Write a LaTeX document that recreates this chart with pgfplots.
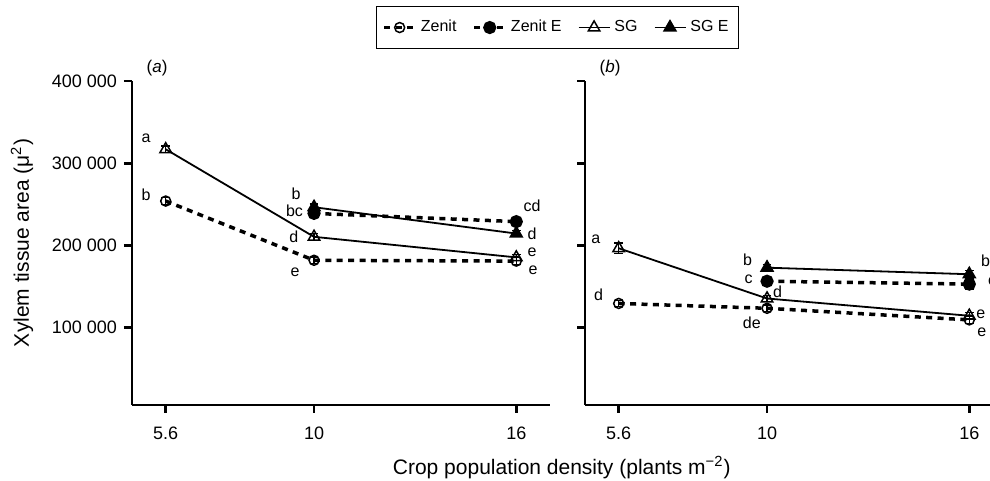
\documentclass[border=0pt]{standalone}
\usepackage{fontspec}
\setmainfont{Liberation Sans}
\usepackage{pgfplots}
\pgfplotsset{compat=1.18}

\tikzset{lab/.style={font=\fontsize{8}{9.5}\selectfont, inner sep=0pt}}
\pgfplotsset{
  myaxis/.style={
    scale only axis, width=209pt, height=162pt,
    xmin=4.6, xmax=17, ymin=6000, ymax=400000,
    axis x line*=bottom, axis y line*=left,
    axis line style={line width=1.3pt},
    xtick={5.6,10,16}, xticklabels={5.6,10,16},
    ytick={100000,200000,300000,400000},
    tick align=outside, major tick length=4pt,
    tick style={line width=1.3pt, black},
    ticklabel style={font=\fontsize{9}{10.5}\selectfont},
    xticklabel style={yshift=-3.5pt},
    scaled y ticks=false,
    clip=false,
  },
  eb/.style={error bars/.cd, y dir=both, y explicit,
    error bar style={solid, line width=0.6pt},
    error mark options={rotate=90, mark size=2.2pt, line width=0.6pt, solid}},
  zen/.style={black, line width=1.75pt, dash pattern=on 3pt off 2.7pt, mark=o, mark size=2.5pt, mark options={solid, line width=0.75pt}},
  zenE/.style={black, line width=1.75pt, dash pattern=on 3pt off 2.7pt, mark=*, mark size=2.4pt, mark options={solid, fill=black}},
  sg/.style={black, line width=0.9pt, mark=triangle, mark size=3.3pt, mark options={solid, line width=0.75pt}},
  sgE/.style={black, line width=0.9pt, mark=triangle*, mark size=3.3pt, mark options={solid, fill=black}},
}

\begin{document}
\begin{tikzpicture}
\begin{axis}[myaxis, at={(0pt,0pt)}, anchor=south west,
  yticklabels={100 000,200 000,300 000,400 000},
  ylabel={Xylem tissue area (μ\textsuperscript{2})},
  ylabel style={at={(rel axis cs:-0.263,0.5)}, anchor=center, font=\fontsize{10.5}{12}\selectfont},
  legend columns=4,
  legend style={at={(1.018,1.165)}, anchor=center, draw=black, line width=0.6pt,
    font=\fontsize{8}{9.6}\selectfont, inner xsep=3pt, inner ysep=5pt,
    /tikz/every even column/.append style={column sep=6pt}},
  legend image code/.code={\draw[mark repeat=2,mark phase=2,#1] plot coordinates {(0pt,0pt) (7.75pt,0pt) (15.5pt,0pt)};},
]
\addplot[zen, eb] coordinates {(5.6,254000) +- (0,4000) (10,182000) +- (0,4000) (16,181000) +- (0,4000)};
\addlegendentry{Zenit}
\addplot[zenE, eb] coordinates {(10,239000) +- (0,5000) (16,229000) +- (0,5000)};
\addlegendentry{Zenit E}
\addplot[sg, eb] coordinates {(5.6,317000) +- (0,4000) (10,210500) +- (0,4000) (16,185500) +- (0,4000)};
\addlegendentry{SG}
\addplot[sgE, eb] coordinates {(10,246500) +- (0,4000) (16,214500) +- (0,4000)};
\addlegendentry{SG E}
\node[lab] at (axis cs:5.02,330700) {a};
\node[lab] at (axis cs:5.02,261400) {b};
\node[lab] at (axis cs:9.47,262600) {b};
\node[lab] at (axis cs:9.42,241900) {bc};
\node[lab] at (axis cs:9.40,210700) {d};
\node[lab] at (axis cs:9.44,166900) {e};
\node[lab] at (axis cs:16.47,248400) {cd};
\node[lab] at (axis cs:16.47,214000) {d};
\node[lab] at (axis cs:16.47,191700) {e};
\node[lab] at (axis cs:16.50,170200) {e};
\node[font=\fontsize{8.5}{10}\selectfont] at (rel axis cs:0.06,1.04) {(\textit{a})};
\node[font=\fontsize{10.5}{12}\selectfont] at (rel axis cs:1.028,-0.194) {Crop population density (plants m\textsuperscript{−2})};
\end{axis}

\begin{axis}[myaxis, at={(226.5pt,0pt)}, anchor=south west, yticklabels={}]
\addplot[zen, eb] coordinates {(5.6,129500) +- (0,4000) (10,123600) +- (0,4000) (16,109500) +- (0,4000)};
\addplot[zenE, eb] coordinates {(10,156500) +- (0,5000) (16,153000) +- (0,6000)};
\addplot[sg, eb] coordinates {(5.6,196600) +- (0,6500) (10,135500) +- (0,4000) (16,114500) +- (0,4000)};
\addplot[sgE, eb] coordinates {(10,173000) +- (0,4000) (16,165000) +- (0,5000)};
\node[lab] at (axis cs:4.92,207900) {a};
\node[lab] at (axis cs:5.00,139800) {d};
\node[lab] at (axis cs:9.42,183200) {b};
\node[lab] at (axis cs:9.45,159300) {c};
\node[lab] at (axis cs:10.31,143100) {d};
\node[lab] at (axis cs:9.55,106100) {de};
\node[lab, anchor=west] at (axis cs:16.34,181200) {bc};
\node[lab, anchor=west] at (axis cs:16.55,156000) {c};
\node[lab] at (axis cs:16.34,116700) {e};
\node[lab] at (axis cs:16.37,94000) {e};
\node[font=\fontsize{8.5}{10}\selectfont] at (rel axis cs:0.06,1.04) {(\textit{b})};
\end{axis}
\pgfresetboundingbox
\useasboundingbox (-66pt,-38pt) rectangle (429pt,202.5pt);
\end{tikzpicture}
\end{document}
